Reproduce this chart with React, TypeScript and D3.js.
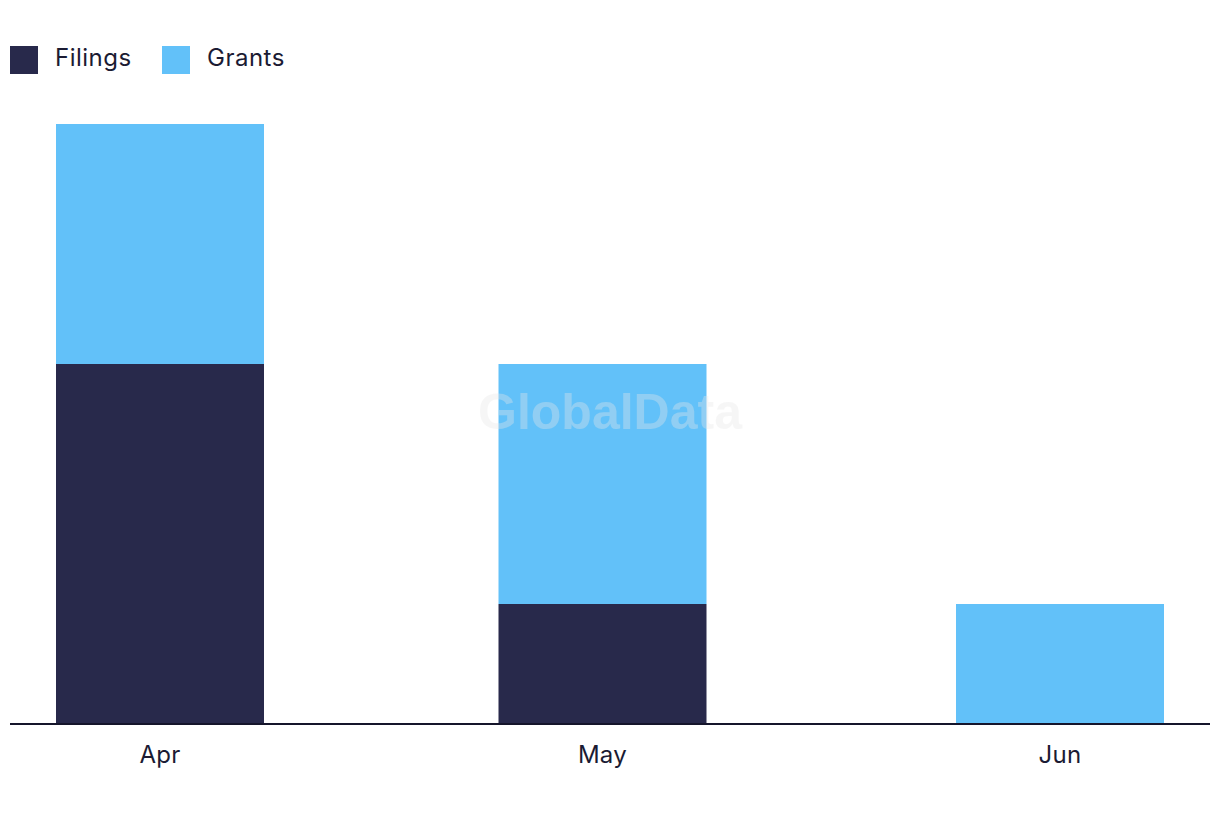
import React from 'react';
import * as d3 from 'd3';

const months = ['Apr', 'May', 'Jun'];
const filings = [3, 1, 0];
const grants = [2, 2, 1];
const seriesNames = ['Filings', 'Grants'];
const seriesColors = ['#28294b', '#62c1f9'];

const width = 1220;
const height = 822;
const baseline = 724;
const fontFamily = 'Inter, "Noto Sans", sans-serif';

const App: React.FC = () => {
  const rows = months.map((m, i) => ({ month: m, Filings: filings[i], Grants: grants[i] }));
  const stacked = d3.stack<any>().keys(seriesNames)(rows);

  // category centres as laid out by the original chart
  const x = d3.scaleOrdinal<string, number>().domain(months).range([160, 602.5, 1060]);
  const y = d3.scaleLinear().domain([0, 5]).range([baseline, 124]);
  const barWidth = 208;

  return (
    <svg
      width={width}
      height={height}
      style={{ position: 'absolute', top: 0, left: 0, display: 'block', background: '#fff' }}
    >
      {/* legend */}
      {seriesNames.map((name, i) => (
        <g key={name} transform={`translate(${10 + i * 152}, 46)`}>
          <rect width={28} height={28} fill={seriesColors[i]} />
          <text x={45} y={20} fontSize={24} letterSpacing={0.5} fill="#1b1b33" fontFamily={fontFamily}>
            {name}
          </text>
        </g>
      ))}

      {/* bars */}
      {stacked.map((layer, li) => (
        <g key={layer.key} fill={seriesColors[li]}>
          {layer.map((d, i) => {
            const h = y(d[0]) - y(d[1]);
            if (h <= 0) return null;
            return (
              <rect
                key={months[i]}
                x={x(months[i]) - barWidth / 2}
                y={y(d[1])}
                width={barWidth}
                height={h}
              />
            );
          })}
        </g>
      ))}

      {/* watermark */}
      <text
        x={610}
        y={429}
        textAnchor="middle"
        fontSize={50}
        fontWeight="bold"
        fontFamily='"Liberation Sans", Arial, sans-serif'
        fill="#e8e8e8"
        opacity={0.35}
      >
        GlobalData
      </text>

      {/* axis */}
      <line x1={10} x2={1210} y1={baseline} y2={baseline} stroke="#15152b" strokeWidth={2} />
      {months.map((m) => (
        <text
          key={m}
          x={x(m)}
          y={763}
          textAnchor="middle"
          fontSize={24}
          letterSpacing={0.3}
          fill="#1b1b33"
          fontFamily={fontFamily}
        >
          {m}
        </text>
      ))}
    </svg>
  );
};

export default App;
